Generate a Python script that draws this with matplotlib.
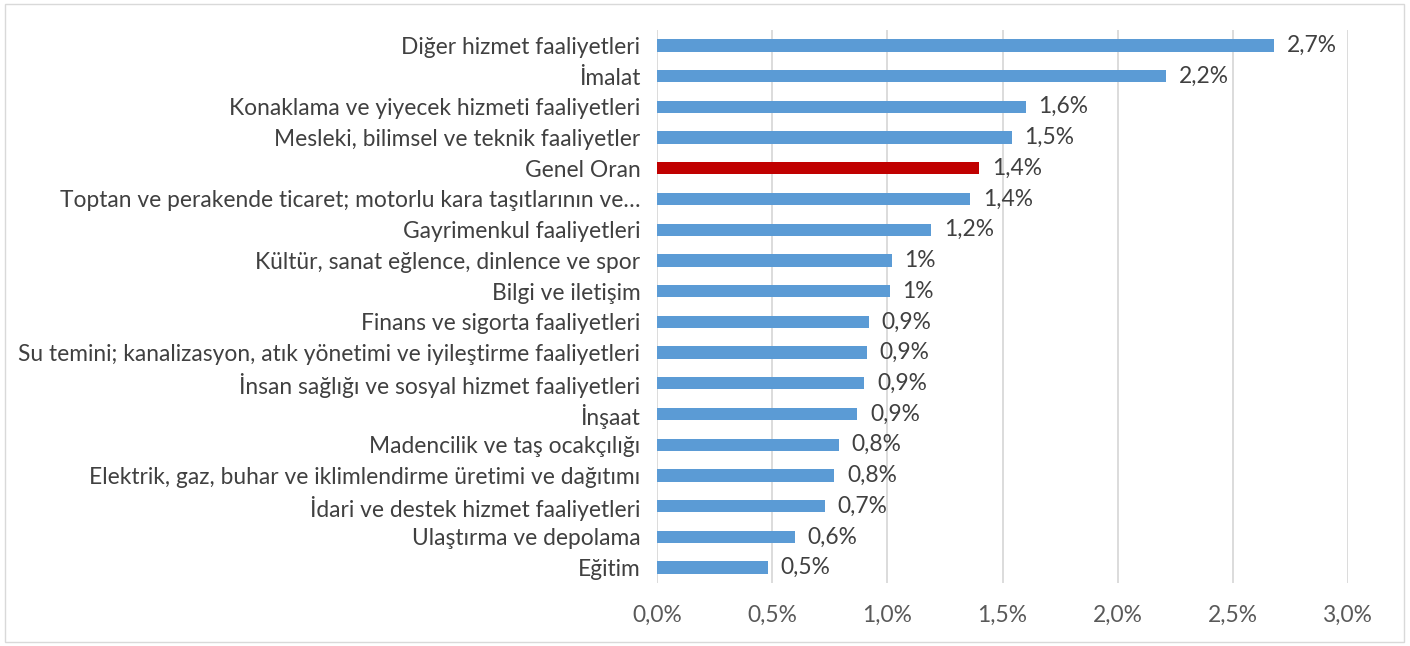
import matplotlib.pyplot as plt
from matplotlib.patches import Rectangle

plt.rcParams['font.family'] = ['Lato', 'DejaVu Sans']

categories = ['Diğer hizmet faaliyetleri', 'İmalat', 'Konaklama ve yiyecek hizmeti faaliyetleri',
              'Mesleki, bilimsel ve teknik faaliyetler', 'Genel Oran',
              'Toptan ve perakende ticaret; motorlu kara taşıtlarının ve…',
              'Gayrimenkul faaliyetleri', 'Kültür, sanat eğlence, dinlence ve spor',
              'Bilgi ve iletişim', 'Finans ve sigorta faaliyetleri',
              'Su temini; kanalizasyon, atık yönetimi ve iyileştirme faaliyetleri',
              'İnsan sağlığı ve sosyal hizmet faaliyetleri', 'İnşaat',
              'Madencilik ve taş ocakçılığı', 'Elektrik, gaz, buhar ve iklimlendirme üretimi ve dağıtımı',
              'İdari ve destek hizmet faaliyetleri', 'Ulaştırma ve depolama', 'Eğitim']
values = [2.68, 2.21, 1.60, 1.54, 1.40, 1.36, 1.19, 1.02, 1.01, 0.92, 0.91, 0.90, 0.87,
          0.79, 0.77, 0.73, 0.60, 0.48]
labels = ['2,7%', '2,2%', '1,6%', '1,5%', '1,4%', '1,4%', '1,2%', '1%', '1%', '0,9%', '0,9%',
          '0,9%', '0,9%', '0,8%', '0,8%', '0,7%', '0,6%', '0,5%']
xticks = [0, 0.5, 1.0, 1.5, 2.0, 2.5, 3.0]
xticklabels = ['0,0%', '0,5%', '1,0%', '1,5%', '2,0%', '2,5%', '3,0%']

fig = plt.figure(figsize=(14.1, 6.46), dpi=100)
ax = fig.add_axes([657 / 1410, 1 - 583 / 646, (1348 - 657) / 1410, (583 - 30) / 646])

colors = ['#c00000' if c == 'Genel Oran' else '#5b9bd5' for c in categories]
y = list(range(len(categories)))
ax.barh(y, values, height=0.4, color=colors, zorder=3)

for i in range(len(values)):
    ax.text(values[i] + 0.055, y[i], labels[i], va='center', ha='left',
            fontsize=16.4, color='#404040')

ax.set_xlim(0, 3.0)
ax.set_ylim(len(categories) - 0.5, -0.5)
ax.set_yticks(y)
ax.set_yticklabels(categories, fontsize=16.4, color='#404040')
ax.set_xticks(xticks)
ax.set_xticklabels(xticklabels, fontsize=16.4, color='#595959')
ax.tick_params(length=0)
ax.tick_params(axis='y', pad=12)
ax.tick_params(axis='x', pad=16)
ax.grid(axis='x', color='#d9d9d9', linewidth=1.3, zorder=0)
for s in ax.spines.values():
    s.set_visible(False)

fig.patches.append(Rectangle((5 / 1410, 4 / 646), 1399 / 1410, 638 / 646,
                             transform=fig.transFigure, fill=False,
                             edgecolor='#d9d9d9', linewidth=1))

fig.savefig('out.png', dpi=100)
